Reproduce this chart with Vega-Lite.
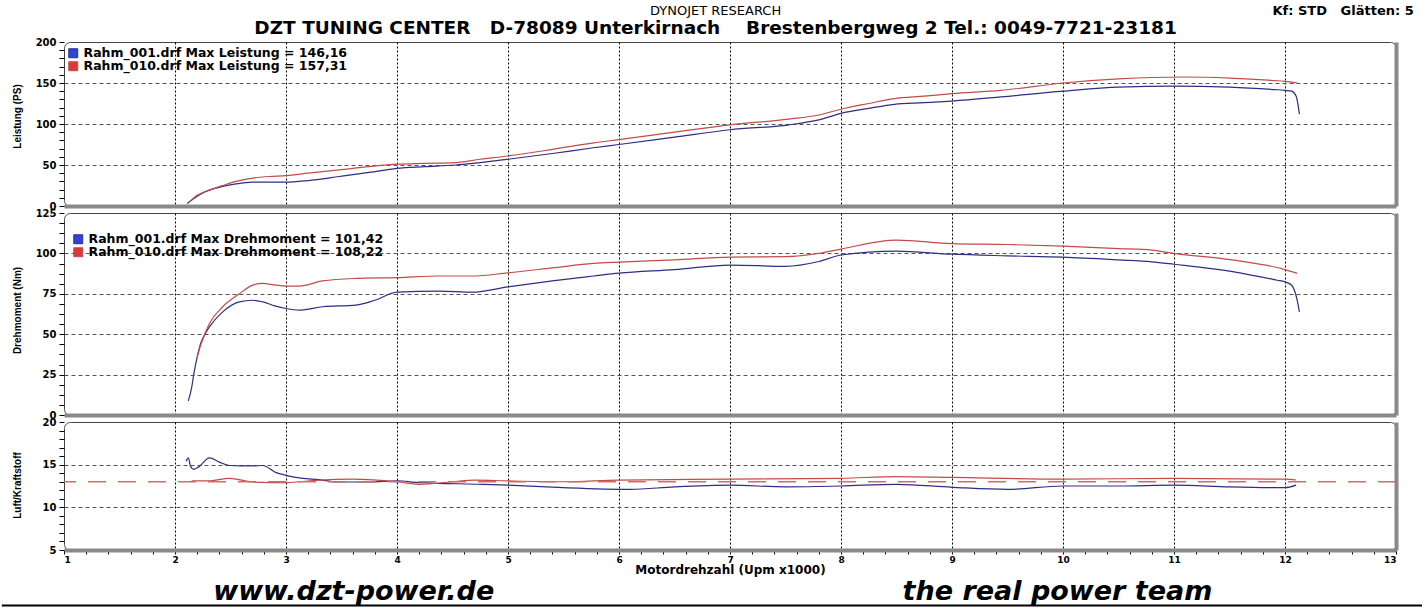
{
  "$schema": "https://vega.github.io/schema/vega-lite/v6.json",
  "background": "white",
  "padding": {"left": 0, "top": 4, "right": 0, "bottom": 0},
  "spacing": 7,
  "bounds": "flush",
  "resolve": {"legend": {"color": "independent"}},
  "config": {
    "view": {"stroke": "#444", "strokeWidth": 1, "cornerRadius": 6},
    "axis": {
      "labelFont": "DejaVu Sans", "labelFontWeight": "bold", "labelFontSize": 10, "labelColor": "#000",
      "tickColor": "#000", "titleFont": "Liberation Sans", "titleFontWeight": "bold",
      "titleFontSize": 10, "titleColor": "#000", "labelOverlap": false
    },
    "legend": {
      "labelFont": "DejaVu Sans", "labelFontWeight": "bold", "labelFontSize": 12.5, "labelColor": "#000",
      "labelLimit": 800, "symbolType": "square", "symbolSize": 80, "symbolStrokeWidth": 1,
      "padding": 0, "title": null, "orient": "none"
    }
  },
  "datasets": {
    "leistung": [
      {"rpm": 2.11, "run": "Rahm_001", "ps": 3}, {"rpm": 2.18, "run": "Rahm_001", "ps": 10},
      {"rpm": 2.25, "run": "Rahm_001", "ps": 16}, {"rpm": 2.35, "run": "Rahm_001", "ps": 21},
      {"rpm": 2.43, "run": "Rahm_001", "ps": 24}, {"rpm": 2.55, "run": "Rahm_001", "ps": 27},
      {"rpm": 2.7, "run": "Rahm_001", "ps": 29}, {"rpm": 2.85, "run": "Rahm_001", "ps": 29},
      {"rpm": 3.0, "run": "Rahm_001", "ps": 29}, {"rpm": 3.2, "run": "Rahm_001", "ps": 31},
      {"rpm": 3.48, "run": "Rahm_001", "ps": 36}, {"rpm": 3.75, "run": "Rahm_001", "ps": 41},
      {"rpm": 4.0, "run": "Rahm_001", "ps": 46}, {"rpm": 4.25, "run": "Rahm_001", "ps": 48},
      {"rpm": 4.53, "run": "Rahm_001", "ps": 50}, {"rpm": 4.75, "run": "Rahm_001", "ps": 53},
      {"rpm": 5.0, "run": "Rahm_001", "ps": 57}, {"rpm": 5.4, "run": "Rahm_001", "ps": 64},
      {"rpm": 5.77, "run": "Rahm_001", "ps": 71}, {"rpm": 6.0, "run": "Rahm_001", "ps": 75},
      {"rpm": 6.5, "run": "Rahm_001", "ps": 84}, {"rpm": 7.0, "run": "Rahm_001", "ps": 93},
      {"rpm": 7.53, "run": "Rahm_001", "ps": 99}, {"rpm": 7.8, "run": "Rahm_001", "ps": 105},
      {"rpm": 8.0, "run": "Rahm_001", "ps": 113}, {"rpm": 8.25, "run": "Rahm_001", "ps": 119},
      {"rpm": 8.48, "run": "Rahm_001", "ps": 124}, {"rpm": 8.75, "run": "Rahm_001", "ps": 126},
      {"rpm": 9.0, "run": "Rahm_001", "ps": 128}, {"rpm": 9.44, "run": "Rahm_001", "ps": 133},
      {"rpm": 10.0, "run": "Rahm_001", "ps": 140}, {"rpm": 10.5, "run": "Rahm_001", "ps": 145},
      {"rpm": 11.0, "run": "Rahm_001", "ps": 146.2}, {"rpm": 11.5, "run": "Rahm_001", "ps": 145},
      {"rpm": 11.9, "run": "Rahm_001", "ps": 142}, {"rpm": 12.0, "run": "Rahm_001", "ps": 141},
      {"rpm": 12.06, "run": "Rahm_001", "ps": 140}, {"rpm": 12.1, "run": "Rahm_001", "ps": 134},
      {"rpm": 12.13, "run": "Rahm_001", "ps": 112},
      {"rpm": 2.13, "run": "Rahm_010", "ps": 5}, {"rpm": 2.2, "run": "Rahm_010", "ps": 13},
      {"rpm": 2.3, "run": "Rahm_010", "ps": 19}, {"rpm": 2.43, "run": "Rahm_010", "ps": 25},
      {"rpm": 2.55, "run": "Rahm_010", "ps": 30}, {"rpm": 2.7, "run": "Rahm_010", "ps": 34},
      {"rpm": 2.85, "run": "Rahm_010", "ps": 36}, {"rpm": 3.0, "run": "Rahm_010", "ps": 37},
      {"rpm": 3.2, "run": "Rahm_010", "ps": 40}, {"rpm": 3.48, "run": "Rahm_010", "ps": 44},
      {"rpm": 3.75, "run": "Rahm_010", "ps": 48}, {"rpm": 4.0, "run": "Rahm_010", "ps": 51},
      {"rpm": 4.25, "run": "Rahm_010", "ps": 52}, {"rpm": 4.53, "run": "Rahm_010", "ps": 53},
      {"rpm": 4.75, "run": "Rahm_010", "ps": 57}, {"rpm": 5.0, "run": "Rahm_010", "ps": 61},
      {"rpm": 5.4, "run": "Rahm_010", "ps": 69}, {"rpm": 5.77, "run": "Rahm_010", "ps": 77},
      {"rpm": 6.0, "run": "Rahm_010", "ps": 81}, {"rpm": 6.5, "run": "Rahm_010", "ps": 90},
      {"rpm": 7.0, "run": "Rahm_010", "ps": 99}, {"rpm": 7.53, "run": "Rahm_010", "ps": 106},
      {"rpm": 7.8, "run": "Rahm_010", "ps": 111}, {"rpm": 8.0, "run": "Rahm_010", "ps": 118},
      {"rpm": 8.25, "run": "Rahm_010", "ps": 125}, {"rpm": 8.48, "run": "Rahm_010", "ps": 131},
      {"rpm": 8.75, "run": "Rahm_010", "ps": 134}, {"rpm": 9.0, "run": "Rahm_010", "ps": 137},
      {"rpm": 9.44, "run": "Rahm_010", "ps": 141}, {"rpm": 10.0, "run": "Rahm_010", "ps": 150},
      {"rpm": 10.5, "run": "Rahm_010", "ps": 155}, {"rpm": 11.09, "run": "Rahm_010", "ps": 157.3},
      {"rpm": 11.5, "run": "Rahm_010", "ps": 156}, {"rpm": 11.9, "run": "Rahm_010", "ps": 153},
      {"rpm": 12.0, "run": "Rahm_010", "ps": 152}, {"rpm": 12.11, "run": "Rahm_010", "ps": 150}
    ],
    "drehmoment": [
      {"rpm": 2.12, "run": "Rahm_001", "nm": 8.7}, {"rpm": 2.15, "run": "Rahm_001", "nm": 17},
      {"rpm": 2.17, "run": "Rahm_001", "nm": 25.6}, {"rpm": 2.2, "run": "Rahm_001", "nm": 36},
      {"rpm": 2.23, "run": "Rahm_001", "nm": 44}, {"rpm": 2.27, "run": "Rahm_001", "nm": 50},
      {"rpm": 2.31, "run": "Rahm_001", "nm": 54.5}, {"rpm": 2.43, "run": "Rahm_001", "nm": 63.8},
      {"rpm": 2.58, "run": "Rahm_001", "nm": 70}, {"rpm": 2.7, "run": "Rahm_001", "nm": 71},
      {"rpm": 2.79, "run": "Rahm_001", "nm": 70}, {"rpm": 2.9, "run": "Rahm_001", "nm": 67.5},
      {"rpm": 3.0, "run": "Rahm_001", "nm": 65.9}, {"rpm": 3.12, "run": "Rahm_001", "nm": 64.9},
      {"rpm": 3.33, "run": "Rahm_001", "nm": 67}, {"rpm": 3.63, "run": "Rahm_001", "nm": 68},
      {"rpm": 3.8, "run": "Rahm_001", "nm": 71}, {"rpm": 4.0, "run": "Rahm_001", "nm": 76},
      {"rpm": 4.38, "run": "Rahm_001", "nm": 76.7}, {"rpm": 4.68, "run": "Rahm_001", "nm": 76},
      {"rpm": 5.0, "run": "Rahm_001", "nm": 79.3}, {"rpm": 5.4, "run": "Rahm_001", "nm": 83},
      {"rpm": 5.77, "run": "Rahm_001", "nm": 86}, {"rpm": 6.0, "run": "Rahm_001", "nm": 87.8},
      {"rpm": 6.5, "run": "Rahm_001", "nm": 90}, {"rpm": 7.0, "run": "Rahm_001", "nm": 92.8},
      {"rpm": 7.5, "run": "Rahm_001", "nm": 92}, {"rpm": 7.8, "run": "Rahm_001", "nm": 95},
      {"rpm": 8.0, "run": "Rahm_001", "nm": 99}, {"rpm": 8.5, "run": "Rahm_001", "nm": 101.4},
      {"rpm": 9.0, "run": "Rahm_001", "nm": 99.5}, {"rpm": 9.5, "run": "Rahm_001", "nm": 98.5},
      {"rpm": 10.0, "run": "Rahm_001", "nm": 97.7}, {"rpm": 10.5, "run": "Rahm_001", "nm": 96},
      {"rpm": 10.8, "run": "Rahm_001", "nm": 94.8}, {"rpm": 11.0, "run": "Rahm_001", "nm": 93.3},
      {"rpm": 11.54, "run": "Rahm_001", "nm": 88.6}, {"rpm": 11.93, "run": "Rahm_001", "nm": 83.4},
      {"rpm": 12.0, "run": "Rahm_001", "nm": 82.4}, {"rpm": 12.06, "run": "Rahm_001", "nm": 80.3},
      {"rpm": 12.11, "run": "Rahm_001", "nm": 71}, {"rpm": 12.13, "run": "Rahm_001", "nm": 63.8},
      {"rpm": 2.2, "run": "Rahm_010", "nm": 36}, {"rpm": 2.23, "run": "Rahm_010", "nm": 43},
      {"rpm": 2.31, "run": "Rahm_010", "nm": 56.6}, {"rpm": 2.43, "run": "Rahm_010", "nm": 67},
      {"rpm": 2.58, "run": "Rahm_010", "nm": 75}, {"rpm": 2.7, "run": "Rahm_010", "nm": 80.4},
      {"rpm": 2.79, "run": "Rahm_010", "nm": 81.4}, {"rpm": 2.9, "run": "Rahm_010", "nm": 80.5},
      {"rpm": 3.0, "run": "Rahm_010", "nm": 79.8}, {"rpm": 3.12, "run": "Rahm_010", "nm": 79.8},
      {"rpm": 3.33, "run": "Rahm_010", "nm": 83}, {"rpm": 3.63, "run": "Rahm_010", "nm": 84.5},
      {"rpm": 4.0, "run": "Rahm_010", "nm": 85}, {"rpm": 4.38, "run": "Rahm_010", "nm": 86},
      {"rpm": 4.68, "run": "Rahm_010", "nm": 86}, {"rpm": 5.0, "run": "Rahm_010", "nm": 88},
      {"rpm": 5.4, "run": "Rahm_010", "nm": 91}, {"rpm": 5.77, "run": "Rahm_010", "nm": 93.8},
      {"rpm": 6.0, "run": "Rahm_010", "nm": 94.6}, {"rpm": 6.5, "run": "Rahm_010", "nm": 96},
      {"rpm": 7.0, "run": "Rahm_010", "nm": 97.7}, {"rpm": 7.5, "run": "Rahm_010", "nm": 98},
      {"rpm": 7.8, "run": "Rahm_010", "nm": 100}, {"rpm": 8.0, "run": "Rahm_010", "nm": 102.7},
      {"rpm": 8.5, "run": "Rahm_010", "nm": 108.2}, {"rpm": 9.0, "run": "Rahm_010", "nm": 106},
      {"rpm": 9.5, "run": "Rahm_010", "nm": 105.5}, {"rpm": 10.0, "run": "Rahm_010", "nm": 104.5},
      {"rpm": 10.5, "run": "Rahm_010", "nm": 103}, {"rpm": 10.8, "run": "Rahm_010", "nm": 102},
      {"rpm": 11.0, "run": "Rahm_010", "nm": 100}, {"rpm": 11.54, "run": "Rahm_010", "nm": 95.8},
      {"rpm": 12.0, "run": "Rahm_010", "nm": 90}, {"rpm": 12.11, "run": "Rahm_010", "nm": 87.6}
    ],
    "afr": [
      {"rpm": 2.1, "run": "Rahm_001", "afr": 15.4}, {"rpm": 2.12, "run": "Rahm_001", "afr": 15.8},
      {"rpm": 2.14, "run": "Rahm_001", "afr": 14.8}, {"rpm": 2.17, "run": "Rahm_001", "afr": 14.45},
      {"rpm": 2.22, "run": "Rahm_001", "afr": 14.8}, {"rpm": 2.31, "run": "Rahm_001", "afr": 15.8},
      {"rpm": 2.4, "run": "Rahm_001", "afr": 15.3}, {"rpm": 2.49, "run": "Rahm_001", "afr": 14.9},
      {"rpm": 2.6, "run": "Rahm_001", "afr": 14.85}, {"rpm": 2.7, "run": "Rahm_001", "afr": 14.85},
      {"rpm": 2.79, "run": "Rahm_001", "afr": 14.9}, {"rpm": 2.91, "run": "Rahm_001", "afr": 14.07},
      {"rpm": 3.0, "run": "Rahm_001", "afr": 13.75}, {"rpm": 3.15, "run": "Rahm_001", "afr": 13.4},
      {"rpm": 3.3, "run": "Rahm_001", "afr": 13.25}, {"rpm": 3.45, "run": "Rahm_001", "afr": 12.97},
      {"rpm": 3.75, "run": "Rahm_001", "afr": 12.97}, {"rpm": 4.0, "run": "Rahm_001", "afr": 13.1},
      {"rpm": 4.2, "run": "Rahm_001", "afr": 12.9}, {"rpm": 4.77, "run": "Rahm_001", "afr": 12.7},
      {"rpm": 5.0, "run": "Rahm_001", "afr": 12.6}, {"rpm": 5.5, "run": "Rahm_001", "afr": 12.3},
      {"rpm": 6.1, "run": "Rahm_001", "afr": 12.1}, {"rpm": 6.5, "run": "Rahm_001", "afr": 12.4},
      {"rpm": 7.0, "run": "Rahm_001", "afr": 12.6}, {"rpm": 7.5, "run": "Rahm_001", "afr": 12.4},
      {"rpm": 8.0, "run": "Rahm_001", "afr": 12.5}, {"rpm": 8.5, "run": "Rahm_001", "afr": 12.7},
      {"rpm": 9.0, "run": "Rahm_001", "afr": 12.35}, {"rpm": 9.5, "run": "Rahm_001", "afr": 12.1},
      {"rpm": 10.0, "run": "Rahm_001", "afr": 12.5}, {"rpm": 10.5, "run": "Rahm_001", "afr": 12.5},
      {"rpm": 11.0, "run": "Rahm_001", "afr": 12.6}, {"rpm": 11.5, "run": "Rahm_001", "afr": 12.4},
      {"rpm": 12.0, "run": "Rahm_001", "afr": 12.3}, {"rpm": 12.1, "run": "Rahm_001", "afr": 12.6},
      {"rpm": 2.15, "run": "Rahm_010", "afr": 13.1}, {"rpm": 2.3, "run": "Rahm_010", "afr": 13.1},
      {"rpm": 2.49, "run": "Rahm_010", "afr": 13.4}, {"rpm": 2.7, "run": "Rahm_010", "afr": 12.97},
      {"rpm": 3.0, "run": "Rahm_010", "afr": 12.9}, {"rpm": 3.3, "run": "Rahm_010", "afr": 13.2},
      {"rpm": 3.6, "run": "Rahm_010", "afr": 13.3}, {"rpm": 4.0, "run": "Rahm_010", "afr": 13.0},
      {"rpm": 4.2, "run": "Rahm_010", "afr": 12.7}, {"rpm": 4.5, "run": "Rahm_010", "afr": 13.0},
      {"rpm": 4.7, "run": "Rahm_010", "afr": 13.2}, {"rpm": 5.0, "run": "Rahm_010", "afr": 13.1},
      {"rpm": 5.5, "run": "Rahm_010", "afr": 13.0}, {"rpm": 6.0, "run": "Rahm_010", "afr": 13.2},
      {"rpm": 7.0, "run": "Rahm_010", "afr": 13.3}, {"rpm": 8.0, "run": "Rahm_010", "afr": 13.4},
      {"rpm": 8.5, "run": "Rahm_010", "afr": 13.6}, {"rpm": 9.0, "run": "Rahm_010", "afr": 13.5},
      {"rpm": 10.0, "run": "Rahm_010", "afr": 13.3}, {"rpm": 11.0, "run": "Rahm_010", "afr": 13.4},
      {"rpm": 12.0, "run": "Rahm_010", "afr": 13.3}, {"rpm": 12.1, "run": "Rahm_010", "afr": 13.2}
    ]
  },
  "vconcat": [
    {
      "width": 1332, "height": 164,
      "resolve": {"axis": {"x": "independent", "y": "independent"}},
      "layer": [
        {
          "data": {"name": "leistung"},
          "mark": {"type": "line", "interpolate": "monotone", "strokeWidth": 1.2, "clip": true},
          "encoding": {
            "x": {"field": "rpm", "type": "quantitative", "scale": {"domain": [1, 13], "nice": false, "zero": false},
              "axis": {"values": [1,1.2,1.4,1.6,1.8,2,2.2,2.4,2.6,2.8,3,3.2,3.4,3.6,3.8,4,4.2,4.4,4.6,4.8,5,5.2,5.4,5.6,5.8,6,6.2,6.4,6.6,6.8,7,7.2,7.4,7.6,7.8,8,8.2,8.4,8.6,8.8,9,9.2,9.4,9.6,9.8,10,10.2,10.4,10.6,10.8,11,11.2,11.4,11.6,11.8,12,12.2,12.4,12.6,12.8,13],
                "labels": false, "ticks": false, "title": null, "domainColor": "#8a8a8a", "domainWidth": 4,
                "grid": true, "gridColor": "#000", "gridDash": [2, 2], "gridWidth": 1,
                "gridOpacity": {"condition": {"test": "abs(datum.value - round(datum.value)) < 0.001 && datum.value > 1.5 && datum.value < 12.5", "value": 1}, "value": 0}}},
            "y": {"field": "ps", "type": "quantitative", "scale": {"domain": [0, 200], "nice": false},
              "axis": {"values": [0,10,20,30,40,50,60,70,80,90,100,110,120,130,140,150,160,170,180,190,200],
                "labelExpr": "abs(datum.value / 50 - round(datum.value / 50)) < 0.001 ? format(datum.value, 'd') : ''", "domain": false, "tickSize": 5, "labelPadding": 3,
                "title": "Leistung (PS)", "titleX": -47, "titleY": 74, "titleAngle": -90, "titleAlign": "center", "titleBaseline": "middle",
                "grid": true, "gridColor": "#555", "gridDash": [4, 3],
                "gridOpacity": {"condition": {"test": "abs(datum.value / 50 - round(datum.value / 50)) < 0.001 && datum.value > 1 && datum.value < 199", "value": 1}, "value": 0}}},
            "color": {"field": "run", "type": "nominal", "scale": {"domain": ["Rahm_001", "Rahm_010"], "range": ["#2e2e82", "#c44a4a"]},
              "legend": {"legendX": 3, "legendY": 5, "rowPadding": -5,
                "labelExpr": "datum.label + '.drf Max Leistung = ' + (datum.label === 'Rahm_001' ? '146,16' : '157,31')",
                "encode": {"symbols": {"update": {"fill": {"signal": "datum.value === 'Rahm_001' ? '#2f45d8' : '#d83a3a'"}, "fillOpacity": {"value": 1}, "stroke": {"value": "#333"}}}}}}
          }
        },
        {
          "data": {"values": [{}]},
          "mark": {"type": "text", "text": "DYNOJET RESEARCH", "font": "DejaVu Sans", "fontSize": 13, "baseline": "middle", "align": "center", "clip": false},
          "encoding": {
            "x": {"datum": 6.87, "type": "quantitative", "scale": {"domain": [1, 13], "nice": false, "zero": false}, "axis": null},
            "y": {"datum": 237.8, "type": "quantitative", "scale": {"domain": [0, 200], "nice": false},
              "axis": {"orient": "right", "labels": false, "ticks": false, "grid": false, "title": null, "domainColor": "#8a8a8a", "domainWidth": 4}}
          }
        },
        {
          "data": {"values": [{}]},
          "mark": {"type": "text", "text": "DZT TUNING CENTER\u00a0\u00a0 D-78089 Unterkirnach\u00a0\u00a0\u00a0 Brestenbergweg 2 Tel.: 0049-7721-23181", "font": "DejaVu Sans", "fontWeight": "bold", "fontSize": 18.5, "baseline": "middle", "align": "center", "clip": false},
          "encoding": {
            "x": {"datum": 6.87, "type": "quantitative", "scale": {"domain": [1, 13], "nice": false, "zero": false}, "axis": null},
            "y": {"datum": 217, "type": "quantitative", "scale": {"domain": [0, 200], "nice": false}, "axis": null}
          }
        },
        {
          "data": {"values": [{}]},
          "mark": {"type": "text", "text": "Kf: STD\u00a0\u00a0 Glätten: 5", "font": "DejaVu Sans", "fontWeight": "bold", "fontSize": 13, "baseline": "middle", "align": "right", "clip": false},
          "encoding": {
            "x": {"datum": 13.16, "type": "quantitative", "scale": {"domain": [1, 13], "nice": false, "zero": false}, "axis": null},
            "y": {"datum": 237.8, "type": "quantitative", "scale": {"domain": [0, 200], "nice": false}, "axis": null}
          }
        }
      ]
    },
    {
      "width": 1332, "height": 202,
      "resolve": {"axis": {"x": "independent", "y": "independent"}},
      "layer": [
        {
          "data": {"name": "drehmoment"},
          "mark": {"type": "line", "interpolate": "monotone", "strokeWidth": 1.2, "clip": true},
          "encoding": {
            "x": {"field": "rpm", "type": "quantitative", "scale": {"domain": [1, 13], "nice": false, "zero": false},
              "axis": {"values": [1,1.2,1.4,1.6,1.8,2,2.2,2.4,2.6,2.8,3,3.2,3.4,3.6,3.8,4,4.2,4.4,4.6,4.8,5,5.2,5.4,5.6,5.8,6,6.2,6.4,6.6,6.8,7,7.2,7.4,7.6,7.8,8,8.2,8.4,8.6,8.8,9,9.2,9.4,9.6,9.8,10,10.2,10.4,10.6,10.8,11,11.2,11.4,11.6,11.8,12,12.2,12.4,12.6,12.8,13],
                "labels": false, "ticks": false, "title": null, "domainColor": "#8a8a8a", "domainWidth": 4,
                "grid": true, "gridColor": "#000", "gridDash": [2, 2], "gridWidth": 1,
                "gridOpacity": {"condition": {"test": "abs(datum.value - round(datum.value)) < 0.001 && datum.value > 1.5 && datum.value < 12.5", "value": 1}, "value": 0}}},
            "y": {"field": "nm", "type": "quantitative", "scale": {"domain": [0, 125], "nice": false},
              "axis": {"values": [0,6.25,12.5,18.75,25,31.25,37.5,43.75,50,56.25,62.5,68.75,75,81.25,87.5,93.75,100,106.25,112.5,118.75,125],
                "labelExpr": "abs(datum.value / 25 - round(datum.value / 25)) < 0.001 ? format(datum.value, 'd') : ''", "domain": false, "tickSize": 5, "labelPadding": 3,
                "title": "Drehmoment (Nm)", "titleX": -47, "titleY": 97, "titleAngle": -90, "titleAlign": "center", "titleBaseline": "middle",
                "grid": true, "gridColor": "#555", "gridDash": [4, 3],
                "gridOpacity": {"condition": {"test": "abs(datum.value / 25 - round(datum.value / 25)) < 0.001 && datum.value > 1 && datum.value < 124", "value": 1}, "value": 0}}},
            "color": {"field": "run", "type": "nominal", "scale": {"domain": ["Rahm_001", "Rahm_010"], "range": ["#2e2e82", "#c44a4a"]},
              "legend": {"legendX": 8, "legendY": 20, "rowPadding": -5,
                "labelExpr": "datum.label + '.drf Max Drehmoment = ' + (datum.label === 'Rahm_001' ? '101,42' : '108,22')",
                "encode": {"symbols": {"update": {"fill": {"signal": "datum.value === 'Rahm_001' ? '#2f45d8' : '#d83a3a'"}, "fillOpacity": {"value": 1}, "stroke": {"value": "#333"}}}}}}
          }
        },
        {
          "data": {"values": [{}]},
          "mark": {"type": "rule", "opacity": 0},
          "encoding": {
            "y": {"datum": 0, "type": "quantitative", "scale": {"domain": [0, 125], "nice": false},
              "axis": {"orient": "right", "labels": false, "ticks": false, "grid": false, "title": null, "domainColor": "#8a8a8a", "domainWidth": 4}}
          }
        }
      ]
    },
    {
      "width": 1332, "height": 128,
      "resolve": {"axis": {"x": "independent", "y": "independent"}},
      "layer": [
        {
          "data": {"name": "afr"},
          "mark": {"type": "line", "interpolate": "monotone", "strokeWidth": 1.2, "clip": true},
          "encoding": {
            "x": {"field": "rpm", "type": "quantitative", "scale": {"domain": [1, 13], "nice": false, "zero": false},
              "axis": {"values": [1,1.2,1.4,1.6,1.8,2,2.2,2.4,2.6,2.8,3,3.2,3.4,3.6,3.8,4,4.2,4.4,4.6,4.8,5,5.2,5.4,5.6,5.8,6,6.2,6.4,6.6,6.8,7,7.2,7.4,7.6,7.8,8,8.2,8.4,8.6,8.8,9,9.2,9.4,9.6,9.8,10,10.2,10.4,10.6,10.8,11,11.2,11.4,11.6,11.8,12,12.2,12.4,12.6,12.8,13],
                "labelExpr": "abs(datum.value - round(datum.value)) < 0.001 ? format(datum.value, 'd') : ''", "labelFontSize": 9, "labelPadding": 1,
                "ticks": true, "tickSize": 4, "title": "Motordrehzahl (Upm x1000)", "titleFont": "DejaVu Sans", "titleFontSize": 12, "titlePadding": 0,
                "domainColor": "#8a8a8a", "domainWidth": 4,
                "grid": true, "gridColor": "#000", "gridDash": [2, 2], "gridWidth": 1,
                "gridOpacity": {"condition": {"test": "abs(datum.value - round(datum.value)) < 0.001 && datum.value > 1.5 && datum.value < 12.5", "value": 1}, "value": 0}}},
            "y": {"field": "afr", "type": "quantitative", "scale": {"domain": [5, 20], "nice": false},
              "axis": {"values": [5,6,7,8,9,10,11,12,13,14,15,16,17,18,19,20],
                "labelExpr": "abs(datum.value / 5 - round(datum.value / 5)) < 0.001 ? format(datum.value, 'd') : ''", "domain": false, "tickSize": 5, "labelPadding": 3,
                "title": "Luft/Kraftstoff", "titleX": -47, "titleY": 63, "titleAngle": -90, "titleAlign": "center", "titleBaseline": "middle",
                "grid": true, "gridColor": "#555", "gridDash": [4, 3],
                "gridOpacity": {"condition": {"test": "abs(datum.value / 5 - round(datum.value / 5)) < 0.001 && datum.value > 5.5 && datum.value < 19.5", "value": 1}, "value": 0}}},
            "color": {"field": "run", "type": "nominal", "scale": {"domain": ["Rahm_001", "Rahm_010"], "range": ["#2e2e82", "#c44a4a"]}, "legend": null}
          }
        },
        {
          "data": {"values": [{}]},
          "mark": {"type": "rule", "color": "#d46a6a", "strokeDash": [18, 12], "strokeWidth": 1.5},
          "encoding": {
            "y": {"datum": 13, "type": "quantitative", "scale": {"domain": [5, 20], "nice": false},
              "axis": {"orient": "right", "labels": false, "ticks": false, "grid": false, "title": null, "domainColor": "#8a8a8a", "domainWidth": 4}}
          }
        },
        {
          "data": {"values": [{}]},
          "mark": {"type": "text", "text": "www.dzt-power.de", "font": "DejaVu Sans", "fontWeight": "bold", "fontStyle": "italic", "fontSize": 27, "baseline": "alphabetic", "align": "center", "clip": false},
          "encoding": {
            "x": {"datum": 3.61, "type": "quantitative", "scale": {"domain": [1, 13], "nice": false, "zero": false}, "axis": null},
            "y": {"datum": -0.86, "type": "quantitative", "scale": {"domain": [5, 20], "nice": false}, "axis": null}
          }
        },
        {
          "data": {"values": [{}]},
          "mark": {"type": "text", "text": "the real power team", "font": "DejaVu Sans", "fontWeight": "bold", "fontStyle": "italic", "fontSize": 27, "baseline": "alphabetic", "align": "center", "clip": false},
          "encoding": {
            "x": {"datum": 9.95, "type": "quantitative", "scale": {"domain": [1, 13], "nice": false, "zero": false}, "axis": null},
            "y": {"datum": -0.86, "type": "quantitative", "scale": {"domain": [5, 20], "nice": false}, "axis": null}
          }
        },
        {
          "data": {"values": [{}]},
          "mark": {"type": "rule", "color": "#000", "strokeWidth": 2, "clip": false},
          "encoding": {
            "x": {"datum": 0.44, "type": "quantitative", "scale": {"domain": [1, 13], "nice": false, "zero": false}, "axis": null},
            "x2": {"datum": 13.25},
            "y": {"datum": -1.5, "type": "quantitative", "scale": {"domain": [5, 20], "nice": false}, "axis": null}
          }
        }
      ]
    }
  ]
}
